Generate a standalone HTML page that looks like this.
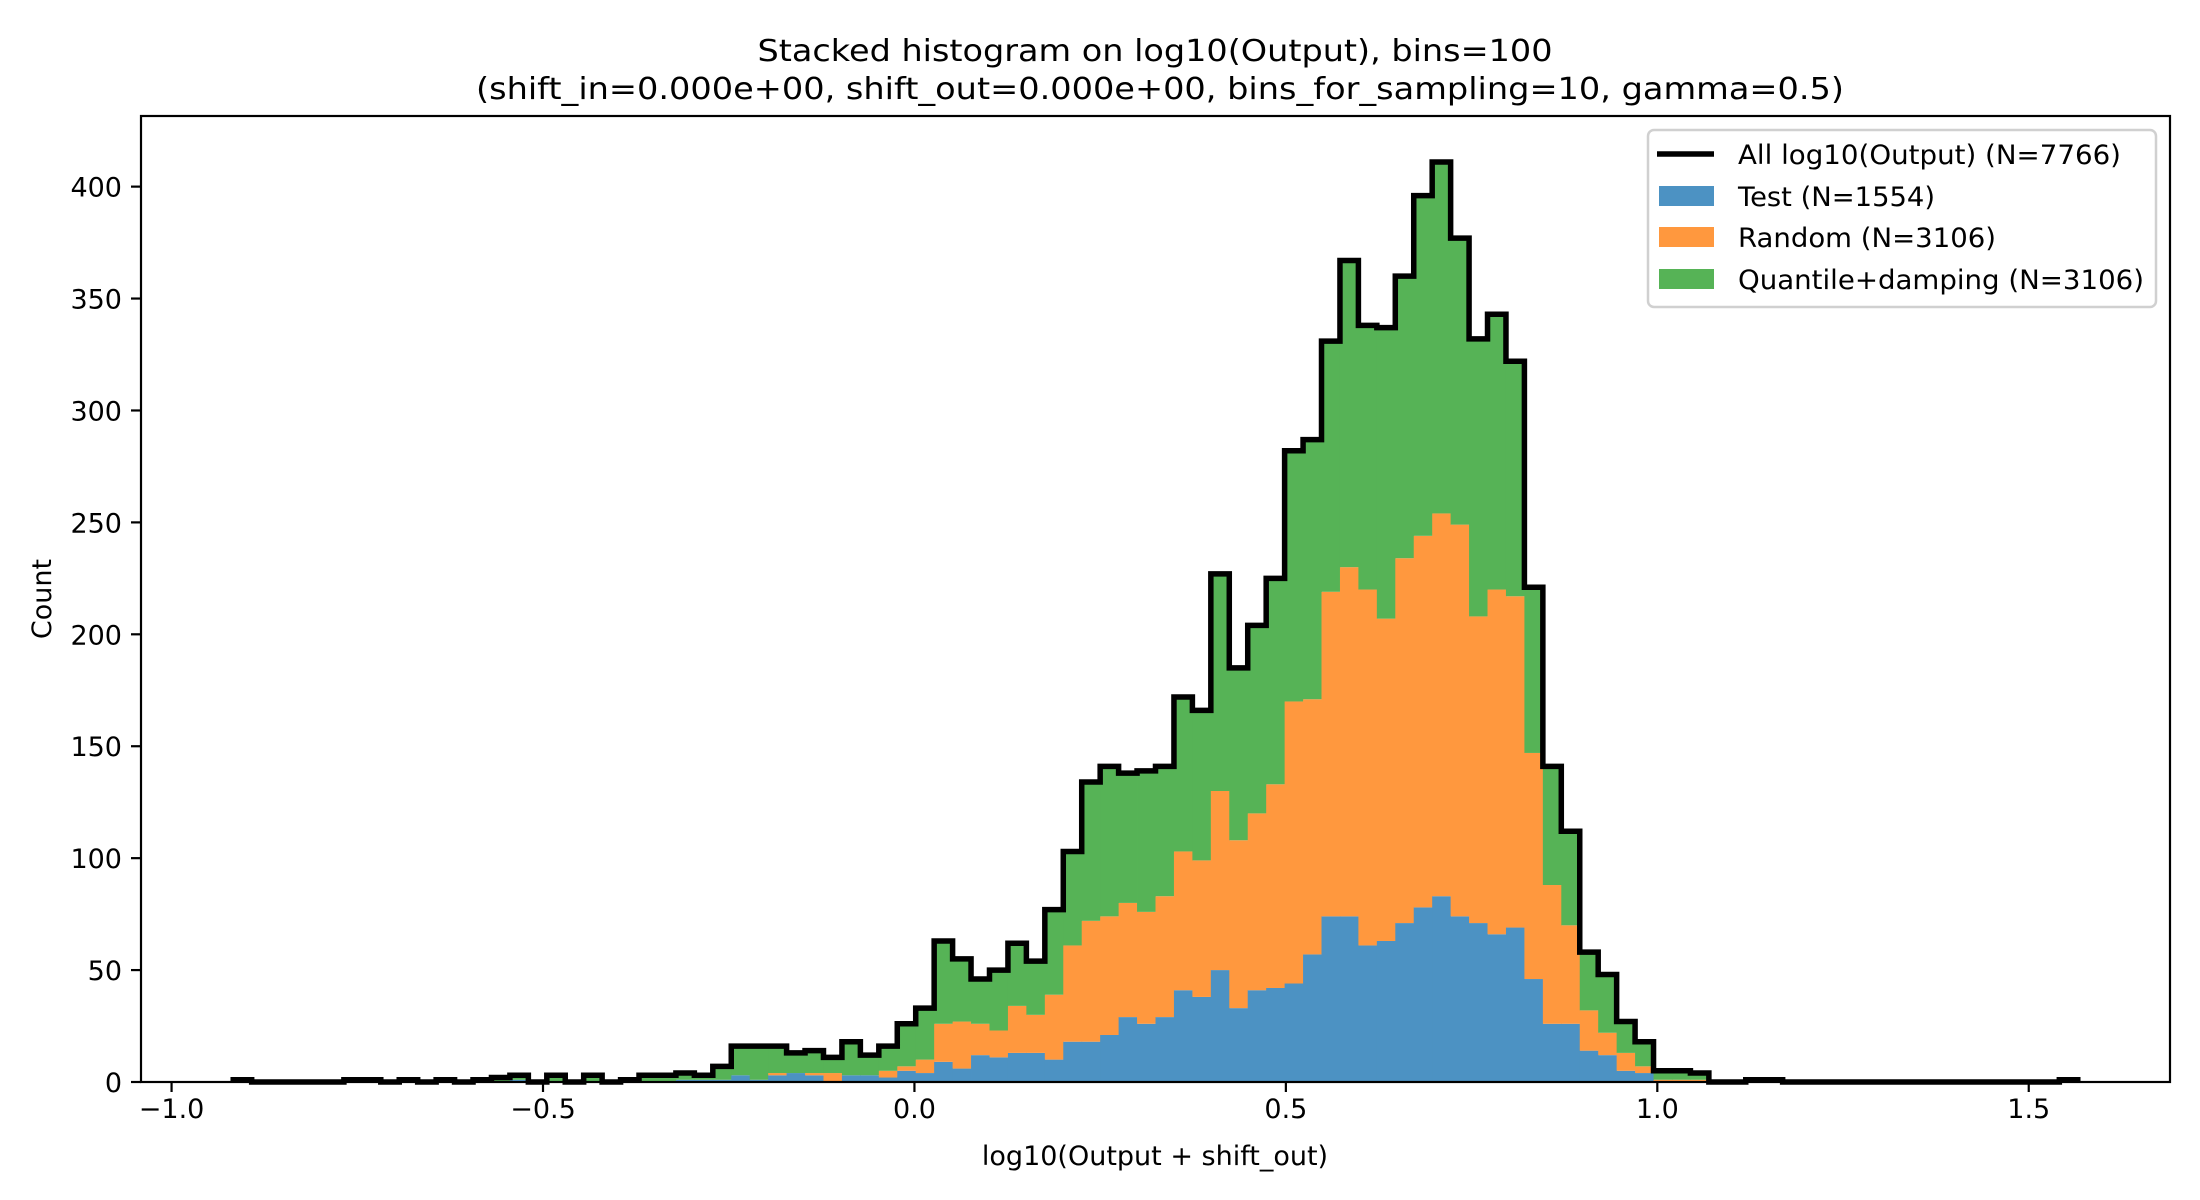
<!DOCTYPE html>
<html><head><meta charset="utf-8"><style>
html,body{margin:0;padding:0;background:#fff;}
svg{display:block;font-family:"DejaVu Sans","Liberation Sans",sans-serif;}
</style></head><body>
<svg id="chart" width="2200" height="1200" viewBox="0 0 2200 1200" xmlns="http://www.w3.org/2000/svg">
<rect x="0" y="0" width="2200" height="1200" fill="#fff"/>
<text x="1155" y="61" font-size="30" text-anchor="middle" textLength="795" lengthAdjust="spacingAndGlyphs">Stacked histogram on log10(Output), bins=100</text>
<text x="1160" y="99" font-size="30" text-anchor="middle" textLength="1368" lengthAdjust="spacingAndGlyphs">(shift_in=0.000e+00, shift_out=0.000e+00, bins_for_sampling=10, gamma=0.5)</text>
<g id="bars"></g>
<g id="outline"></g>
<g id="axes"></g>
<text x="1155" y="1165" font-size="27" text-anchor="middle">log10(Output + shift_out)</text>
<text x="0" y="0" font-size="27" text-anchor="middle" transform="translate(51,599) rotate(-90)">Count</text>
<g>
<rect x="1648" y="130" width="508" height="177" rx="6" fill="#fff" fill-opacity="0.8" stroke="#d0d0d0" stroke-width="2.5"/>
<line x1="1657" y1="154" x2="1714" y2="154" stroke="#000" stroke-width="5.5"/>
<text x="1738" y="164" font-size="27" textLength="383" lengthAdjust="spacingAndGlyphs">All log10(Output) (N=7766)</text>
<rect x="1659" y="186" width="55" height="20" fill="#4c92c3"/>
<text x="1738" y="206" font-size="27" textLength="197" lengthAdjust="spacingAndGlyphs">Test (N=1554)</text>
<rect x="1659" y="227" width="55" height="20" fill="#ff983e"/>
<text x="1738" y="247" font-size="27" textLength="258" lengthAdjust="spacingAndGlyphs">Random (N=3106)</text>
<rect x="1659" y="269" width="55" height="20" fill="#56b356"/>
<text x="1738" y="289" font-size="27" textLength="406" lengthAdjust="spacingAndGlyphs">Quantile+damping (N=3106)</text>
</g>
</svg>
<script>
const binStart = -0.917;
const binWidth = 0.02483;
const testCounts = [0,0,0,0,0,0,0,0,0,0, 0,0,0,0,0,1,0,0,0,0, 0,0,0,0,1,1,1,3,1,3, 4,3,0,3,3,2,5,4,9,6, 12,11,13,13,10,18,18,21,29,26, 29,41,38,50,33,41,42,44,57,74, 74,61,63,71,78,83,74,71,66,69, 46,26,26,14,12,5,4,0,0,0, 0,0,0,0,0,0,0,0,0,0, 0,0,0,0,0,0,0,0,0,0];
const randomCounts = [0,0,0,0,0,0,0,0,0,0, 0,0,0,0,0,0,0,0,0,0, 0,0,0,0,0,0,0,0,0,1, 0,1,4,0,0,3,2,6,17,21, 14,12,21,17,29,43,54,53,51,50, 54,62,61,80,75,79,91,126,114,145, 156,159,144,163,166,171,175,137,154,148, 101,62,44,18,10,8,3,1,1,1, 0,0,0,0,0,0,0,0,0,0, 0,0,0,0,0,0,0,0,0,0];
const quantileCounts = [1,0,0,0,0,0,1,1,0,1, 0,1,0,1,2,2,0,3,0,3, 0,1,3,3,3,2,6,13,15,12, 9,10,7,15,9,11,19,23,37,28, 20,27,28,24,38,42,62,67,58,63, 58,69,67,97,77,84,92,112,116,112, 137,118,130,126,152,157,128,124,123,105, 74,53,42,26,26,14,11,4,4,3, 0,0,1,1,0,0,0,0,0,0, 0,0,0,0,0,0,0,0,0,1];
const xTicks = [-1.0, -0.5, 0.0, 0.5, 1.0, 1.5];
const xTickLabels = ["\u22121.0", "\u22120.5", "0.0", "0.5", "1.0", "1.5"];
const yTicks = [0, 50, 100, 150, 200, 250, 300, 350, 400];

const NS = "http://www.w3.org/2000/svg";
const plotL = 141, plotR = 2170, plotT = 116, plotB = 1082;
const nBins = testCounts.length;
const dataMin = binStart, dataMax = binStart + nBins * binWidth;
const xMin = dataMin - 0.05 * (dataMax - dataMin), xMax = dataMax + 0.05 * (dataMax - dataMin);
const totals = testCounts.map((v, i) => v + randomCounts[i] + quantileCounts[i]);
const yMax = Math.max(...totals) * 1.05;
const xs = v => plotL + (v - xMin) / (xMax - xMin) * (plotR - plotL);
const ys = v => plotB - v / yMax * (plotB - plotT);

function mk(tag, attrs, parent) {
  const e = document.createElementNS(NS, tag);
  for (const k in attrs) e.setAttribute(k, attrs[k]);
  parent.appendChild(e);
  return e;
}
const bars = document.getElementById('bars');
const series = [[testCounts, '#4c92c3', 'test'], [randomCounts, '#ff983e', 'random'], [quantileCounts, '#56b356', 'quantile']];
for (let i = 0; i < nBins; i++) {
  let base = 0;
  const x0 = xs(binStart + i * binWidth), x1 = xs(binStart + (i + 1) * binWidth);
  for (const [arr, col, nm] of series) {
    const v = arr[i];
    if (v > 0) {
      const r = mk('rect', {x: x0, y: ys(base + v), width: x1 - x0 + 0.4, height: ys(base) - ys(base + v), fill: col}, bars);
      
      
    }
    base += v;
  }
}
let d = 'M' + xs(dataMin) + ',' + ys(0);
for (let i = 0; i < nBins; i++) {
  const x0 = xs(binStart + i * binWidth), x1 = xs(binStart + (i + 1) * binWidth);
  d += ' L' + x0 + ',' + ys(totals[i]) + ' L' + x1 + ',' + ys(totals[i]);
}
d += ' L' + xs(dataMax) + ',' + ys(0);
const op = mk('path', {d: d, fill: 'none', stroke: '#000', 'stroke-width': 5.5, 'stroke-linejoin': 'miter'}, document.getElementById('outline'));



const axes = document.getElementById('axes');
const frame = mk('rect', {x: plotL, y: plotT, width: plotR - plotL, height: plotB - plotT, fill: 'none', stroke: '#000', 'stroke-width': 2.2}, axes);


xTicks.forEach((t, i) => {
  const x = xs(t);
  const tl = mk('line', {x1: x, y1: plotB, x2: x, y2: plotB + 10, stroke: '#000', 'stroke-width': 2.2}, axes);
  
  
  const tx = mk('text', {x: x, y: 1118, 'font-size': 27, 'text-anchor': 'middle'}, axes);
  tx.textContent = xTickLabels[i];
  
  
});
yTicks.forEach(t => {
  const y = ys(t);
  const tl = mk('line', {x1: plotL - 10, y1: y, x2: plotL, y2: y, stroke: '#000', 'stroke-width': 2.2}, axes);
  
  
  const tx = mk('text', {x: plotL - 19, y: y + 10, 'font-size': 27, 'text-anchor': 'end'}, axes);
  tx.textContent = String(t);
  
  
});
</script>
</body></html>
